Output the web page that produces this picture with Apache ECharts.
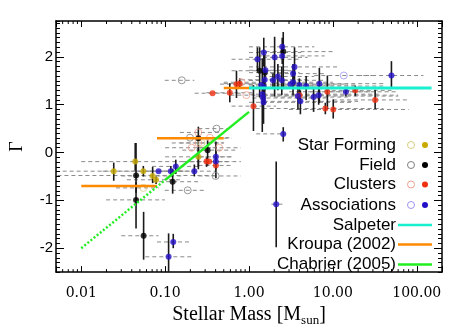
<!DOCTYPE html>
<html><head><meta charset="utf-8">
<script src="https://cdn.jsdelivr.net/npm/echarts@6/dist/echarts.min.js"></script>
<style>html,body{margin:0;padding:0;background:#fff}#c{width:460px;height:332px}</style>
</head><body><div id="c"></div>
<script>
// ---- axis ranges and ticks ----
const X_MIN = 0.005, X_MAX = 200, Y_MIN = -2.5, Y_MAX = 2.75;
const xMajorTicks = [0.01, 0.1, 1, 10, 100];
const yMajorTicks = [-2, -1, 0, 1, 2];
const xMinorTicks = [0.006,0.007,0.008,0.009,0.02,0.03,0.04,0.05,0.06,0.07,0.08,0.09,
  0.2,0.3,0.4,0.5,0.6,0.7,0.8,0.9,2,3,4,5,6,7,8,9,20,30,40,50,60,70,80,90];

// ---- data: [mass, gamma, massLo, massHi, gammaLo, gammaHi] ----
const starFormingFilled = [
  [0.0244,-0.39,0.006,0.099,-0.59,-0.21],
  [0.044,-0.19,0.01,0.2,-0.38,0.2],
  [0.055,-0.39,0.018,0.166,-0.5,-0.28],
  [0.071,-0.49,0.03,0.166,-0.64,-0.3],
  [0.078,-0.57,0.035,0.15,-0.66,-0.5],
  [0.249,-0.09,0.1,0.62,-0.3,0.1]
];
const starFormingOpen = [
  [0.055,-0.74,0.026,0.084,-0.74,-0.74],
  [0.272,0.2,0.15,0.5,0.2,0.2]
];
const fieldFilled = [
  [0.045,-0.48,0.0052,0.39,-0.84,0.2],
  [0.045,-0.99,0.0198,0.099,-1.59,-0.62],
  [0.0554,-1.74,0.03,0.0835,-2.24,-1.24],
  [0.123,-0.61,0.07,0.27,-0.86,-0.34],
  [0.249,0.3,0.09,0.62,-0.35,0.54],
  [0.321,0.05,0.16,0.71,-0.27,0.27],
  [1.34,1.71,0.62,3.2,1.15,2.2],
  [1.54,1.67,1.0,4.0,1.0,2.05],
  [2.56,2.11,1.3,10,1.37,2.52]
];
const fieldOpen = [
  [0.158,1.51,0.099,0.223,1.51,1.51],
  [0.41,0.5,0.249,0.57,0.5,0.5],
  [0.40,-0.49,0.25,0.8,-0.49,-0.49],
  [0.186,-0.79,0.099,0.312,-0.79,-0.79],
  [0.198,0.31,0.12,0.35,0.31,0.31]
];
const clustersFilled = [
  [0.368,1.24,0.225,0.81,1.24,1.24],
  [0.59,1.25,0.31,1.13,1.05,1.45],
  [0.709,1.43,0.45,1.2,1.14,1.71],
  [0.776,1.44,0.5,1.3,1.35,1.55],
  [1.13,0.97,0.62,2.1,0.45,1.41],
  [4.0,1.2,1.5,10,1.1,1.3],
  [8.6,1.27,3,30,0.91,1.61],
  [8.13,0.92,1.2,40,0.8,1.04],
  [10.1,0.9,3,80,0.71,1.11],
  [18.5,1.3,8,50,1.18,1.4],
  [31.9,1.1,10,80,0.91,1.31],
  [0.312,-0.19,0.16,0.62,-0.3,-0.1],
  [0.335,-0.19,0.2,0.55,-0.19,-0.19],
  [0.403,-0.27,0.25,0.65,-0.35,-0.19]
];
const clustersOpen = [
  [0.249,0.42,0.15,0.45,0.42,0.42],
  [0.342,0.31,0.2,0.6,0.31,0.31],
  [0.442,0.1,0.25,0.8,0.1,0.1],
  [0.207,0.1,0.1,0.4,0.1,0.1],
  [0.249,0.2,0.12,0.5,0.2,0.2],
  [0.812,1.47,0.5,1.3,1.47,1.47],
  [0.93,1.2,0.6,1.5,1.2,1.2]
];
const assocFilled = [
  [0.0835,-0.39,0.045,0.16,-0.39,-0.39],
  [0.117,-0.39,0.065,0.22,-0.5,-0.28],
  [0.134,-0.29,0.07,0.25,-0.45,-0.15],
  [0.223,-0.39,0.12,0.4,-0.5,-0.25],
  [0.403,-0.19,0.2,0.8,-0.54,0.23],
  [0.403,-0.09,0.25,0.65,-0.2,0.02],
  [0.125,-1.87,0.08,0.207,-2.0,-1.7],
  [0.11,-2.18,0.058,0.207,-2.5,-1.69],
  [2.11,-1.08,1.85,2.54,-1.98,-0.19],
  [2.56,0.39,1.22,2.78,0.23,0.53],
  [1.26,1.95,0.62,3.9,1.7,2.2],
  [1.5,2.09,1.0,4.2,1.8,2.4],
  [1.57,1.72,1.0,3.2,1.72,1.72],
  [1.54,1.52,0.8,5,1.3,1.75],
  [1.40,1.41,1.0,10,1.41,1.41],
  [1.5,1.37,1.0,8,1.2,1.55],
  [1.44,1.22,1.0,35,0.43,1.97],
  [1.47,1.14,1.1,9,1.0,1.3],
  [1.49,1.05,1.0,18,0.6,1.5],
  [2.02,1.99,1.0,5,1.17,2.42],
  [2.49,2.02,1.3,8,1.85,2.2],
  [2.49,2.21,1.0,6,2.05,2.4],
  [2.21,1.59,1.2,6,1.3,1.85],
  [1.93,1.51,1.0,4,1.35,1.65],
  [2.46,1.51,1.0,8,1.2,1.8],
  [3.49,1.79,1.0,12,1.4,2.2],
  [3.35,1.65,1.5,8,1.45,1.85],
  [3.35,1.47,2,10,1.2,1.7],
  [3.12,1.43,1.0,15,1.43,1.43],
  [3.99,1.41,2,20,1.25,1.55],
  [3.83,1.18,1.2,60,0.9,1.4],
  [4.1,1.07,1.5,20,0.8,1.3],
  [4.8,1.39,2,40,1.1,1.6],
  [5.89,1.16,2,15,0.85,1.35],
  [6.9,1.44,2,40,1.04,1.77],
  [6.77,1.2,1.5,60,1.0,1.4],
  [14.3,1.27,5,60,1.17,1.37],
  [49.9,1.61,20,120,1.37,1.91]
];
const assocOpen = [
  [13.5,1.61,6,30,1.61,1.61]
];

// ---- model IMF slopes ----
const salpeter = [[1,1.35],[150,1.35]];
const kroupa1 = [[0.01,-0.7],[0.08,-0.7]];
const kroupa2 = [[0.08,0.3],[0.5,0.3]];
const kroupa3 = [[0.5,1.35],[1,1.35]];
const chabrierDotted = [[0.01,-2.0],[0.1,-0.575]];
const chabrierSolid = [[0.1,-0.575],[1,0.85]];

// ---- colours ----
const C = {
  olive:'#c8aa00', oliveOpen:'#d8cc80',
  black:'#000000', gray:'#808080',
  red:'#f03010', redOpen:'#f0a090',
  blue:'#2410c8', blueOpen:'#9c94f0',
  cyan:'#18f0d0', orange:'#ff8a00', green:'#22ee22'
};

const allPoints = [].concat(starFormingFilled, starFormingOpen, fieldFilled, fieldOpen,
  clustersFilled, clustersOpen, assocFilled, assocOpen);

function renderRange(params, api) {
  const g = api.value(1);
  const a = api.coord([api.value(2), g]);
  const b = api.coord([api.value(3), g]);
  return {type:'line', shape:{x1:a[0],y1:a[1],x2:b[0],y2:b[1]},
    style:{stroke:'#8a8a8a', lineWidth:1, lineDash:[4,3]}};
}
function renderErr(params, api) {
  const m = api.value(0), gl = api.value(4), gh = api.value(5);
  if (!(gh > gl)) return null;
  const a = api.coord([m, gl]), b = api.coord([m, gh]);
  return {type:'line', shape:{x1:a[0],y1:a[1],x2:b[0],y2:b[1]},
    style:{stroke:'#1a1a1a', lineWidth:1.6}};
}
function renderMinor(params, api) {
  const v = api.value(0);
  const b = api.coord([v, Y_MIN]), t = api.coord([v, Y_MAX]);
  return {type:'group', children:[
    {type:'line', shape:{x1:b[0],y1:b[1],x2:b[0],y2:b[1]-3}, style:{stroke:'#000',lineWidth:1}},
    {type:'line', shape:{x1:t[0],y1:t[1],x2:t[0],y2:t[1]+3}, style:{stroke:'#000',lineWidth:1}}
  ]};
}

function scatter(data, color, open) {
  return {type:'scatter', data:data.map(d=>[d[0],d[1]]), symbol:'circle',
    symbolSize: open ? 7 : 6, z:4, silent:true,
    itemStyle: open ? {color:'rgba(0,0,0,0)', borderColor:color, borderWidth:1}
                    : {color:color, borderColor:color, borderWidth:0}};
}
function line(data, color, dotted, w) {
  return {type:'line', data:data, symbol:'none', z:6, silent:true,
    lineStyle:{color:color, width:w || 2.5, type: dotted ? [2,2] : 'solid'}};
}

function fmtX(v) {
  const l = Math.log10(v);
  if (Math.abs(l - Math.round(l)) < 1e-6 && v > 0.009 && v < 101) return v.toFixed(2);
  return '';
}

const axisLine = {show:true, onZero:false, lineStyle:{color:'#000', width:1.5}};
const noLine = {show:false, onZero:false};
const tickStyle = {color:'#000', width:1};

const legendRows = [
  {label:'Star Forming', open:C.oliveOpen, fill:C.olive},
  {label:'Field', open:C.gray, fill:C.black},
  {label:'Clusters', open:C.redOpen, fill:C.red},
  {label:'Associations', open:C.blueOpen, fill:C.blue},
  {label:'Salpeter', line:C.cyan},
  {label:'Kroupa (2002)', line:C.orange},
  {label:'Chabrier (2005)', line:C.green}
];
const legendY = [145, 165, 184.5, 205, 225, 244.5, 264.5];
const graphics = [];
legendRows.forEach((r, i) => {
  const y = legendY[i];
  graphics.push({type:'text', z:10, style:{text:r.label, x:396, y:y, textAlign:'right',
    textVerticalAlign:'middle', font:'17px "Liberation Sans", Arial, sans-serif', fill:'#000'}});
  if (r.line) {
    graphics.push({type:'line', z:10, shape:{x1:398,y1:y,x2:432,y2:y}, style:{stroke:r.line, lineWidth:2.5}});
  } else {
    graphics.push({type:'circle', z:10, shape:{cx:411,cy:y,r:3.5}, style:{fill:'none', stroke:r.open, lineWidth:1}});
    graphics.push({type:'circle', z:10, shape:{cx:425,cy:y,r:3}, style:{fill:r.fill}});
  }
});

const option = {
  animation:false,
  backgroundColor:'#fff',
  grid:{left:53, right:18, top:21, bottom:50},
  xAxis:[
    {type:'log', logBase:10, min:X_MIN, max:X_MAX, position:'bottom',
     axisLine:axisLine, axisTick:{inside:true, length:6, lineStyle:tickStyle},
     axisLabel:{formatter:fmtX, fontFamily:'DejaVu Serif', fontSize:14, color:'#000', margin:14},
     splitLine:{show:false},
     name:'{a|Stellar Mass [M}{b|sun}{a|]}', nameLocation:'middle', nameGap:22,
     nameTextStyle:{rich:{
       a:{fontFamily:'Liberation Serif', fontSize:20, lineHeight:24, color:'#000'},
       b:{fontFamily:'Liberation Serif', fontSize:13, lineHeight:13, verticalAlign:'bottom', color:'#000'}
     }}},
    {type:'log', logBase:10, min:X_MIN, max:X_MAX, position:'top',
     axisLine:axisLine, axisTick:{inside:true, length:6, lineStyle:tickStyle},
     axisLabel:{show:false}, splitLine:{show:false}}
  ],
  yAxis:[
    {type:'value', min:Y_MIN, max:Y_MAX, position:'left', offset:0,
     axisLine:axisLine, axisTick:{inside:true, length:8, lineStyle:tickStyle, customValues:yMajorTicks},
     axisLabel:{customValues:yMajorTicks, fontFamily:'Liberation Sans', fontSize:15, color:'#000', margin:3,
       formatter:v=>String(v)},
     splitLine:{show:false},
     name:'Γ', nameLocation:'middle', nameGap:30, nameRotate:90,
     nameTextStyle:{fontFamily:'Liberation Serif', fontSize:18, color:'#000'}},
    {type:'value', min:Y_MIN, max:Y_MAX, interval:0.1, position:'left', offset:0,
     axisLine:noLine, axisTick:{inside:true, length:4, lineStyle:tickStyle},
     axisLabel:{show:false}, splitLine:{show:false}},
    {type:'value', min:Y_MIN, max:Y_MAX, position:'right', offset:0,
     axisLine:axisLine, axisTick:{inside:true, length:8, lineStyle:tickStyle, customValues:yMajorTicks},
     axisLabel:{show:false}, splitLine:{show:false}},
    {type:'value', min:Y_MIN, max:Y_MAX, interval:0.1, position:'right', offset:0,
     axisLine:noLine, axisTick:{inside:true, length:4, lineStyle:tickStyle},
     axisLabel:{show:false}, splitLine:{show:false}}
  ],
  graphic: graphics,
  series:[
    {type:'custom', data:xMinorTicks.map(v=>[v,0]), renderItem:renderMinor, silent:true, z:7},
    {type:'custom', data:allPoints, renderItem:renderRange, silent:true, z:1},
    {type:'custom', data:allPoints, renderItem:renderErr, silent:true, z:2},
    scatter(starFormingOpen, C.oliveOpen, true),
    scatter(fieldOpen, C.gray, true),
    scatter(clustersOpen, C.redOpen, true),
    scatter(assocOpen, C.blueOpen, true),
    scatter(starFormingFilled, C.olive, false),
    scatter(fieldFilled, C.black, false),
    scatter(clustersFilled, C.red, false),
    scatter(assocFilled, C.blue, false),
    line(salpeter, C.cyan, false, 3),
    line(kroupa1, C.orange, false),
    line(kroupa2, C.orange, false),
    line(kroupa3, C.orange, false),
    line(chabrierDotted, C.green, true),
    line(chabrierSolid, C.green, false)
  ]
};
const chart = echarts.init(document.getElementById('c'), null, {renderer:'canvas'});
chart.setOption(option);
</script></body></html>
